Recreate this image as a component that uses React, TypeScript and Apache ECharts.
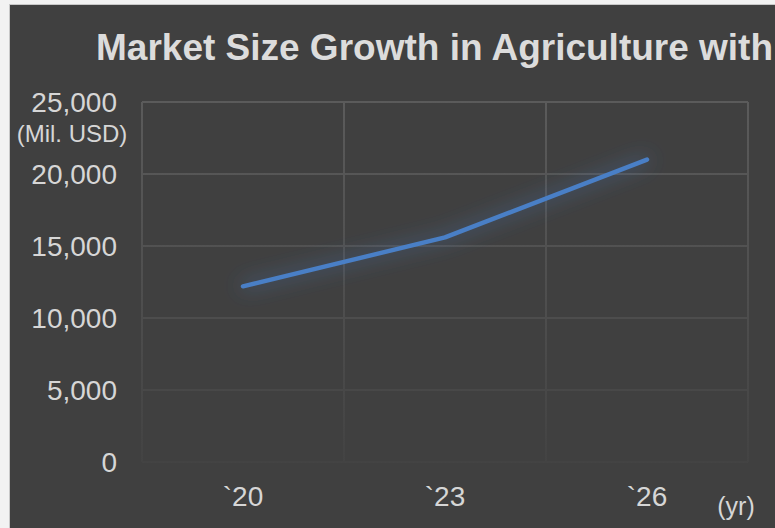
import React, { useEffect, useRef } from "react";
import * as echarts from "echarts";

const years = ["`20", "`23", "`26"];
const marketSize = [12200, 15600, 21000];
const yTicks = [0, 5000, 10000, 15000, 20000, 25000];

const titleText = "Market Size Growth in Agriculture with";
const unitText = "(Mil. USD)";
const xUnitText = "(yr)";

export default function App() {
  const ref = useRef<HTMLDivElement>(null);

  useEffect(() => {
    if (!ref.current) return;
    const chart = echarts.init(ref.current, null, { renderer: "svg" });
    const gridGrad = new echarts.graphic.LinearGradient(
      0,
      100,
      0,
      464,
      [
        { offset: 0, color: "#5b5b5b" },
        { offset: 0.6, color: "#4d4d4d" },
        { offset: 1, color: "#434343" },
      ],
      true
    );
    const font = "'Liberation Sans', Arial, sans-serif";
    chart.setOption({
      animation: false,
      backgroundColor: "transparent",
      textStyle: { fontFamily: font },
      grid: { left: 142, right: 27, top: 102, bottom: 66, containLabel: false },
      xAxis: {
        type: "category",
        data: years,
        boundaryGap: true,
        axisLine: { show: false },
        axisTick: { show: false },
        axisLabel: {
          color: "#d6d6d6",
          fontSize: 28,
          margin: 20,
          fontFamily: font,
        },
        splitLine: {
          show: true,
          lineStyle: { color: gridGrad, width: 2 },
        },
      },
      yAxis: {
        type: "value",
        min: yTicks[0],
        max: yTicks[yTicks.length - 1],
        interval: yTicks[1] - yTicks[0],
        axisLine: { show: false },
        axisTick: { show: false },
        axisLabel: {
          color: "#d6d6d6",
          fontSize: 28,
          margin: 25,
          fontFamily: font,
          formatter: (v: number) => v.toLocaleString("en-US"),
        },
        splitLine: {
          show: true,
          lineStyle: { color: gridGrad, width: 2 },
        },
      },
      graphic: [
        {
          type: "text",
          left: 96,
          top: 29,
          style: {
            text: titleText,
            fill: "#dcdcdc",
            font: `bold 37px ${font}`,
          },
        },
        {
          type: "text",
          x: 72,
          y: 133,
          style: {
            text: unitText,
            fill: "#d6d6d6",
            font: `24px ${font}`,
            textAlign: "center",
            textVerticalAlign: "middle",
          },
        },
        {
          type: "text",
          x: 736,
          y: 506,
          style: {
            text: xUnitText,
            fill: "#d6d6d6",
            font: `25px ${font}`,
            textAlign: "center",
            textVerticalAlign: "middle",
          },
        },
      ],
      series: [
        {
          type: "line",
          data: marketSize,
          symbol: "none",
          smooth: false,
          lineStyle: {
            color: "#4a7fc6",
            width: 4.5,
            cap: "round",
            shadowBlur: 20,
            shadowColor: "rgba(74,127,198,0.75)",
          },
        },
      ],
    });
    return () => chart.dispose();
  }, []);

  return (
    <div
      style={{
        position: "fixed",
        left: 0,
        top: 0,
        width: 775,
        height: 528,
        background: "#f2f2f2",
        overflow: "hidden",
      }}
    >
      <div
        style={{
          position: "absolute",
          left: 9,
          top: 4,
          width: 775,
          height: 528,
          background: "#404040",
          borderLeft: "1px solid #c8c8c8",
          borderTop: "1px solid #c8c8c8",
        }}
      />
      <div
        ref={ref}
        style={{ position: "absolute", left: 0, top: 0, width: 775, height: 528 }}
      />
    </div>
  );
}
